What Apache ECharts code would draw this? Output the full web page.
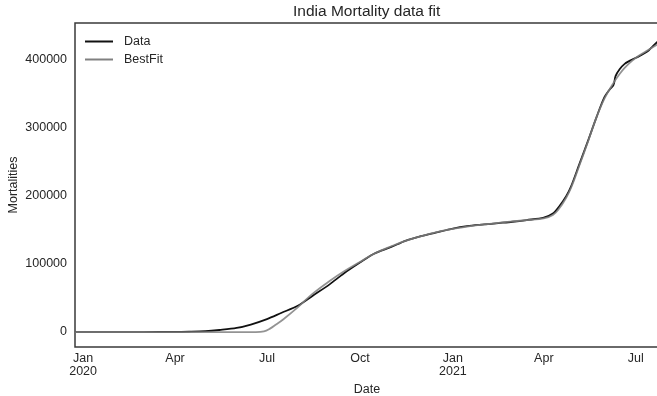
<!DOCTYPE html>
<html>
<head>
<meta charset="utf-8">
<script src="https://cdn.jsdelivr.net/npm/echarts@6/dist/echarts.min.js"></script>
<style>
html,body{margin:0;padding:0;background:#fff;}
#chart{width:657px;height:396px;}
</style>
</head>
<body>
<div id="chart"></div>
<script>
// ---- data ----
var dataDates = ['2019-12-24','2020-03-01','2020-04-01','2020-04-15','2020-05-01','2020-05-15','2020-06-01','2020-06-15','2020-07-01','2020-07-15','2020-08-01','2020-08-15','2020-09-01','2020-09-15','2020-10-01','2020-10-15','2020-11-01','2020-11-15','2020-12-01','2020-12-15','2021-01-01','2021-01-15','2021-02-01','2021-02-15','2021-03-01','2021-03-15','2021-04-01','2021-04-10','2021-04-16','2021-04-23','2021-04-28','2021-05-06','2021-05-15','2021-05-23','2021-05-31','2021-06-05','2021-06-09','2021-06-11','2021-06-15','2021-06-20','2021-06-27','2021-07-04','2021-07-10','2021-07-14','2021-07-18','2021-07-23'];
var dataValues = [0,0,50,400,1200,3000,6000,11000,19000,28000,39000,53000,70000,86000,102000,115000,125000,134000,141000,146000,152000,155500,158000,160000,162000,164500,168000,174000,184000,199000,214000,246000,282000,315000,345000,356000,363000,376000,386000,394000,400000,405000,410000,414000,420000,427000];

var fitDates = ['2019-12-24','2020-06-20','2020-06-28','2020-07-04','2020-07-10','2020-07-17','2020-08-01','2020-08-15','2020-09-01','2020-09-15','2020-10-01','2020-10-15','2020-11-01','2020-11-15','2020-12-01','2020-12-15','2021-01-01','2021-01-15','2021-02-01','2021-02-15','2021-03-01','2021-03-15','2021-04-01','2021-04-10','2021-04-16','2021-04-23','2021-04-28','2021-05-06','2021-05-15','2021-05-23','2021-05-31','2021-06-09','2021-06-15','2021-06-20','2021-06-27','2021-07-04','2021-07-14','2021-07-23'];
var fitValues = [0,0,1000,5000,11000,18500,37000,56000,75000,89000,103000,115000,126000,134000,141000,146500,151500,155000,158000,160500,162500,164500,167000,172000,181000,197000,212000,244000,281000,315000,343000,366000,379000,388000,398000,406000,415000,423000];

var xTickDates = ['2020-01-01','2020-04-01','2020-07-01','2020-10-01','2021-01-01','2021-04-01','2021-07-01'];
var xTickLabels = ['Jan\n2020','Apr','Jul','Oct','Jan\n2021','Apr','Jul'];
var yTicks = [0,100000,200000,300000,400000];

var xMin = '2019-12-24';
var xMax = '2021-07-24';
var yMin = -22000;
var yMax = 454000;

function ts(s){ var p = s.split('-'); return Date.UTC(+p[0], +p[1]-1, +p[2]); }
function pairs(d, v){ return d.map(function(x,i){ return [ts(x), v[i]]; }); }

var xTickTs = xTickDates.map(ts);
var FONT = 'Liberation Sans, Arial, sans-serif';
var TXT = '#262626';

var chart = echarts.init(document.getElementById('chart'), null, {renderer:'canvas'});
chart.setOption({
  animation: false,
  backgroundColor: '#fff',
  textStyle: {fontFamily: FONT},
  title: {
    text: 'India Mortality data fit',
    left: 293, top: 4, padding: 0,
    textStyle: {fontFamily: FONT, fontSize: 15.5, fontWeight: 'normal', color: TXT}
  },
  legend: {
    orient: 'vertical',
    left: 85, top: 35, padding: 0,
    icon: 'rect',
    itemWidth: 28, itemHeight: 2, itemGap: 5,
    textStyle: {fontFamily: FONT, fontSize: 12.5, color: TXT, padding: [0,0,0,6]},
    data: ['Data','BestFit']
  },
  grid: {
    left: 75, top: 23, right: -2, bottom: 49,
    outerBoundsMode: 'none', containLabel: false,
    show: true, borderColor: '#3a3a3a', borderWidth: 1.5, backgroundColor: '#fff'
  },
  xAxis: {
    type: 'value',
    min: ts(xMin), max: ts(xMax),
    name: 'Date', nameLocation: 'middle', nameGap: 34,
    nameTextStyle: {fontFamily: FONT, fontSize: 12.5, color: TXT},
    axisLine: {show: false},
    axisTick: {show: false, customValues: xTickTs},
    splitLine: {show: false},
    axisLabel: {
      customValues: xTickTs,
      margin: 5, fontFamily: FONT, fontSize: 12.5, lineHeight: 13, color: TXT,
      formatter: function(v){ var i = xTickTs.indexOf(v); return i >= 0 ? xTickLabels[i] : ''; }
    }
  },
  yAxis: {
    type: 'value',
    min: yMin, max: yMax,
    name: 'Mortalities', nameLocation: 'middle', nameGap: 55, nameMoveOverlap: false,
    nameTextStyle: {fontFamily: FONT, fontSize: 12.5, color: TXT},
    axisLine: {show: false},
    axisTick: {show: false, customValues: yTicks},
    splitLine: {show: false},
    axisLabel: {customValues: yTicks, margin: 8, fontFamily: FONT, fontSize: 12.5, color: TXT,
      formatter: function(v){ return String(v); }}
  },
  series: [
    {
      name: 'Data', type: 'line', showSymbol: false, symbol: 'none', smooth: 0.3,
      data: pairs(dataDates, dataValues),
      lineStyle: {color: '#111111', width: 1.8},
      itemStyle: {color: '#111111'}
    },
    {
      name: 'BestFit', type: 'line', showSymbol: false, symbol: 'none', smooth: 0.4,
      data: pairs(fitDates, fitValues),
      lineStyle: {color: '#808080', width: 1.8, opacity: 0.85},
      itemStyle: {color: '#808080'}
    }
  ]
});
</script>
</body>
</html>
